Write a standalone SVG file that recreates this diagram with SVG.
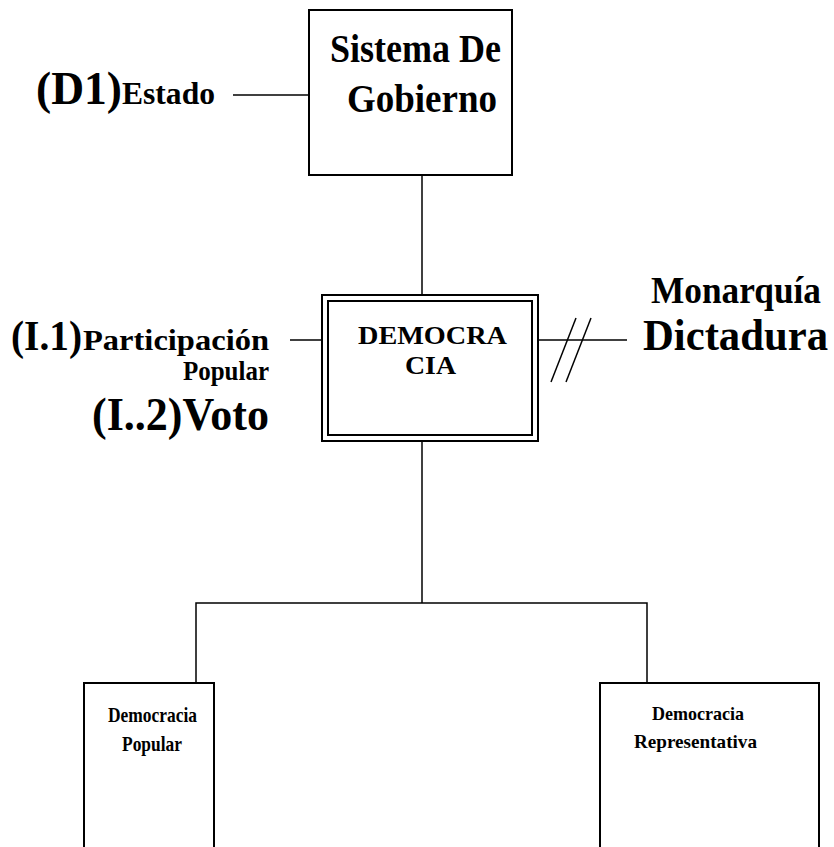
<svg xmlns="http://www.w3.org/2000/svg" width="834" height="847" viewBox="0 0 834 847">
<style>
text{font-family:"Liberation Serif","Times New Roman",serif;font-weight:bold;fill:#000}
.box{fill:#fff;stroke:#000;stroke-width:2}
.ln{stroke:#000;stroke-width:1.5;fill:none}
</style>
<rect width="834" height="847" fill="#fff"/>
<g id="connectors">
<line class="ln" x1="233" y1="95" x2="309" y2="95"/>
<line class="ln" x1="422" y1="175" x2="422" y2="295"/>
<line class="ln" x1="290" y1="340" x2="322" y2="340"/>
<line class="ln" x1="538" y1="340" x2="627" y2="340"/>
<line class="ln" x1="551" y1="382" x2="576" y2="318"/>
<line class="ln" x1="566" y1="382" x2="591" y2="318"/>
<line class="ln" x1="422" y1="441" x2="422" y2="603"/>
<polyline class="ln" points="196,683 196,603 647,603 647,683"/>
</g>
<g id="sistema">
<rect class="box" x="309" y="10" width="203" height="165"/>
<text x="330" y="62" font-size="40" textLength="171" lengthAdjust="spacingAndGlyphs">Sistema De</text>
<text x="347" y="112" font-size="40" textLength="150" lengthAdjust="spacingAndGlyphs">Gobierno</text>
</g>
<g id="estado">
<text x="36" y="104" font-size="46" textLength="86" lengthAdjust="spacingAndGlyphs">(D1)</text>
<text x="122" y="104" font-size="31" textLength="93" lengthAdjust="spacingAndGlyphs">Estado</text>
</g>
<g id="democracia">
<rect class="box" x="322" y="295" width="216" height="146"/>
<rect class="box" x="328" y="301" width="204" height="134"/>
<text x="358" y="344" font-size="26" textLength="149" lengthAdjust="spacingAndGlyphs">DEMOCRA</text>
<text x="405" y="374" font-size="26" textLength="51" lengthAdjust="spacingAndGlyphs">CIA</text>
</g>
<g id="participacion">
<text x="11" y="350" font-size="42" textLength="71" lengthAdjust="spacingAndGlyphs">(I.1)</text>
<text x="83" y="350" font-size="30" textLength="186" lengthAdjust="spacingAndGlyphs">Participación</text>
<text x="183" y="380" font-size="27" textLength="86" lengthAdjust="spacingAndGlyphs">Popular</text>
<text x="92" y="430" font-size="46" textLength="177" lengthAdjust="spacingAndGlyphs">(I..2)Voto</text>
</g>
<g id="monarquia">
<text x="651" y="303" font-size="37" textLength="170" lengthAdjust="spacingAndGlyphs">Monarquía</text>
<text x="643" y="350" font-size="44" textLength="185" lengthAdjust="spacingAndGlyphs">Dictadura</text>
</g>
<g id="popular">
<rect class="box" x="84" y="683" width="130" height="170"/>
<text x="108" y="722" font-size="21" textLength="89" lengthAdjust="spacingAndGlyphs">Democracia</text>
<text x="122" y="751" font-size="21" textLength="60" lengthAdjust="spacingAndGlyphs">Popular</text>
</g>
<g id="representativa">
<rect class="box" x="600" y="683" width="219" height="170"/>
<text x="652" y="720" font-size="19" textLength="92" lengthAdjust="spacingAndGlyphs">Democracia</text>
<text x="634" y="748" font-size="19.5" textLength="123" lengthAdjust="spacingAndGlyphs">Representativa</text>
</g>
</svg>
